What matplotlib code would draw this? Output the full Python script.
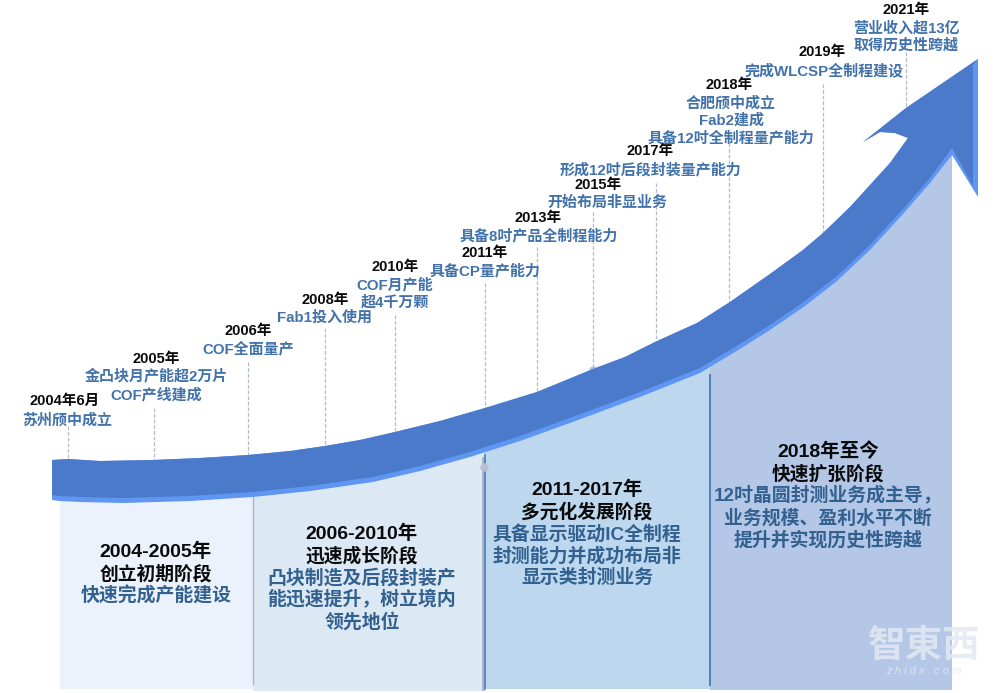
import matplotlib
matplotlib.use("Agg")
import matplotlib.pyplot as plt
from matplotlib.patches import Polygon
import numpy as np

FONT = ["Liberation Sans", "Noto Sans CJK SC", "DejaVu Sans"]

# arrow outline, pixel coords
top_edge = [(52, 460), (68, 459), (100, 461), (153, 460), (200, 458), (248, 455), (290, 451), (325, 446),
            (360, 440), (395, 432), (440, 421), (485, 408), (537, 392), (593, 369), (625, 357), (655, 342),
            (697, 323), (730, 302), (770, 274), (803, 250), (823, 233), (850, 207), (870, 185), (890, 163),
            (908, 138)]
barb = [(908, 138), (895, 133), (880, 132), (863, 142), (906, 108), (978, 59)]
head = [(978, 59), (978, 197), (952, 155)]
low_edge = [(952, 155), (930, 183), (903, 214), (870, 250), (837, 281), (805, 306), (770, 330), (735, 352),
            (700, 373), (640, 397), (570, 423), (520, 441), (470, 457), (420, 471), (373, 482), (310, 491),
            (253, 497), (190, 501), (123, 503), (80, 502), (60, 501), (52, 500)]

# panels under the arrow: left, right, colour
panel_x = [(60, 253), (253, 484), (484, 710), (710, 952)]
panel_col = ["#ebf2fb", "#dde8f5", "#bdd7ee", "#b4c7e7"]
panel_bottom = [689, 691, 689, 690]

# milestones
stem_x = [68, 154, 248, 325, 395, 485, 537, 593, 656, 729, 823, 906]
stem_top = [426, 408, 362, 328, 315, 283, 247, 212, 183, 143, 84, 52]
stem_bot = [459, 460, 455, 446, 432, 408, 392, 369, 344, 302, 233, 108]

years = ["2004年6月", "2005年", "2006年", "2008年", "2010年", "2011年", "2013年", "2015年", "2017年", "2018年", "2019年", "2021年"]
year_x = [65, 156, 248, 325, 395, 485, 538, 598, 650, 729, 822, 906]
year_y = [401, 359, 331, 300, 267, 253, 218, 185, 151, 85, 52, 10]

notes = [["苏州颀中成立"], ["金凸块月产能超2万片", "COF产线建成"], ["COF全面量产"], ["Fab1投入使用"],
         ["COF月产能", "超4千万颗"], ["具备CP量产能力"], ["具备8吋产品全制程能力"], ["开始布局非显业务"],
         ["形成12吋后段封装量产能力"], ["合肥颀中成立", "Fab2建成", "具备12吋全制程量产能力"],
         ["完成WLCSP全制程建设"], ["营业收入超13亿", "取得历史性跨越"]]
note_x = [67, 156, 248, 325, 395, 485, 539, 607, 651, 731, 824, 906]
note_y = [420, 377, 349, 318, 285, 271, 236, 203, 170, 103, 71, 28]
note_gap = 17.5

# stages
stage_titles = ["2004-2005年", "2006-2010年", "2011-2017年", "2018年至今"]
stage_names = ["创立初期阶段", "迅速成长阶段", "多元化发展阶段", "快速扩张阶段"]
stage_text = [["快速完成产能建设"],
              ["凸块制造及后段封装产", "能迅速提升，树立境内", "领先地位"],
              ["具备显示驱动IC全制程", "封测能力并成功布局非", "显示类封测业务"],
              ["12吋晶圆封测业务成主导，", "业务规模、盈利水平不断", "提升并实现历史性跨越"]]
stage_x = [156, 362, 587, 828]
stage_y = [552, 534, 490, 452]

fig = plt.figure(figsize=(10, 6.93), dpi=100)
ax = fig.add_axes([0, 0, 1, 1])
ax.set_xlim(0, 1000)
ax.set_ylim(693, 0)
ax.axis("off")

low = np.array(low_edge, dtype=float)
low_x = low[::-1, 0]
low_y = low[::-1, 1]

# panels, top sits behind the underside of the arrow
for (x0, x1), col, yb in zip(panel_x, panel_col, panel_bottom):
    inner = [(x, y - 3) for x, y in zip(low_x, low_y) if x0 < x < x1]
    top = [(x0, np.interp(x0, low_x, low_y) - 3)] + inner + [(x1, np.interp(x1, low_x, low_y) - 3)]
    ax.add_patch(Polygon(top + [(x1, yb), (x0, yb)], closed=True, fc=col, ec="none", zorder=1))

ax.plot([253, 253], [497, 684], color="#a3b6d0", lw=1, zorder=2)
ax.plot([483, 483], [458, 689], color="#a9b4c8", lw=2, zorder=2)
ax.plot([485, 485], [455, 689], color="#4f7fb9", lw=1.2, zorder=2)
ax.plot([710, 710], [375, 685], color="#4f7fb9", lw=1.4, zorder=2)

# dashed stems
for x, y0, y1 in zip(stem_x, stem_top, stem_bot):
    ax.plot([x, x], [y0, y1], color="#b4b9cf", lw=0.9, ls=(0, (3, 1.5)), zorder=2)
ax.plot([593, 484], [370, 467], ls="none", marker="o", ms=5, color="#b9bfd2", zorder=2.5)

# arrow: bright copy first, main body on top with raised underside
outline = top_edge + barb[1:] + head[1:] + low_edge[1:]
ax.add_patch(Polygon(outline, closed=True, fc="#5f96f2", ec="none", zorder=3))
body_low = [(x, y - 5) for x, y in low_edge[1:]]
body = top_edge + barb[1:] + [(973, 65), (973, 186), (952, 148)] + body_low
ax.add_patch(Polygon(body, closed=True, fc="#4c7acb", ec="none", zorder=4))


def put(x, y, s, size, col):
    ax.text(x, y, s, fontsize=size, color=col, family=FONT, fontweight="bold", ha="center", va="center", zorder=6)


for s, x, y in zip(years, year_x, year_y):
    put(x, y, s, 10.5, "#0a0a0a")

for lines, x, y in zip(notes, note_x, note_y):
    for i, s in enumerate(lines):
        put(x, y + i * note_gap, s, 10.8, "#4272aa")

for i in range(4):
    x, y = stage_x[i], stage_y[i]
    put(x, y, stage_titles[i], 14, "#0a0a0a")
    put(x, y + 22, stage_names[i], 13.5, "#0a0a0a")
    for j, s in enumerate(stage_text[i]):
        put(x, y + 44 + j * 22, s, 13.6, "#33618f")

# watermark
ax.text(924, 647, "智東西", fontsize=27, color="#e3e8f2", alpha=0.85, family=FONT, fontweight="bold",
        ha="center", va="center", zorder=7)
ax.text(924, 671, "z h i d x . c o m", fontsize=8, color="#e3e8f2", alpha=0.85, family=FONT, style="italic",
        ha="center", va="center", zorder=7)

fig.savefig("out.png", dpi=100, facecolor="white")
